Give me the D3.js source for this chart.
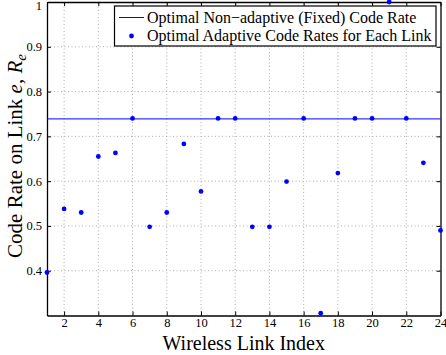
<!DOCTYPE html>
<html>
<head>
<meta charset="utf-8">
<script src="https://cdn.jsdelivr.net/npm/d3@7"></script>
<style>
body { margin: 0; background: #fff; }
text { font-family: "Liberation Serif", "Times New Roman", Times, serif; }
</style>
</head>
<body>
<div id="chart"></div>
<script>
// link indices and the rates
const links = d3.range(1, 25);
const adaptiveRates = [0.396, 0.538, 0.530, 0.655, 0.663, 0.740, 0.498, 0.530, 0.683, 0.577, 0.740, 0.740,
                       0.498, 0.498, 0.599, 0.740, 0.305, 0.618, 0.740, 0.740, 1.0, 0.740, 0.641, 0.490];
const fixedRate = 0.739;
const xTicks = [2, 4, 6, 8, 10, 12, 14, 16, 18, 20, 22, 24];
const yTicks = [0.4, 0.5, 0.6, 0.7, 0.8, 0.9, 1];
const legendLabels = ["Optimal Non\u2212adaptive (Fixed) Code Rate", "Optimal Adaptive Code Rates for Each Link"];

const width = 446, height = 355;
const margin = {left: 47, right: 5.5, top: 2, bottom: 39.5};
const serif = "'Liberation Serif', 'Times New Roman', Times, serif";

const svg = d3.select("#chart").append("svg")
    .attr("width", width)
    .attr("height", height)
    .style("display", "block");

const x = d3.scaleLinear().domain([1, 24]).range([margin.left, width - margin.right]);
const y = d3.scaleLinear().domain([0.3, 1]).range([height - margin.bottom, margin.top]);

const blue = "#0000ff";

// grid
svg.append("g").selectAll("line")
    .data(xTicks.filter(d => d < 24))
    .enter().append("line")
    .attr("x1", d => x(d)).attr("x2", d => x(d))
    .attr("y1", y(0.3)).attr("y2", y(1))
    .attr("stroke", "#999").attr("stroke-width", 0.8)
    .attr("stroke-dasharray", "1,2.5");
svg.append("g").selectAll("line")
    .data(yTicks.filter(d => d < 1))
    .enter().append("line")
    .attr("x1", x(1)).attr("x2", x(24))
    .attr("y1", d => y(d)).attr("y2", d => y(d))
    .attr("stroke", "#999").attr("stroke-width", 0.8)
    .attr("stroke-dasharray", "1,2.5");

// axes, ticks pointing inward
const xAxis = svg.append("g")
    .attr("transform", `translate(0,${y(0.3)})`)
    .call(d3.axisBottom(x).tickValues(xTicks).tickSizeInner(-4).tickSizeOuter(0).tickPadding(3));
const xTop = svg.append("g")
    .attr("transform", `translate(0,${y(1)})`)
    .call(d3.axisTop(x).tickValues(xTicks).tickSizeInner(-4).tickSizeOuter(0).tickFormat(""));
const yAxis = svg.append("g")
    .attr("transform", `translate(${x(1)},0)`)
    .call(d3.axisLeft(y).tickValues(yTicks).tickSizeInner(-4).tickSizeOuter(0).tickPadding(5)
        .tickFormat(d => d === 1 ? "1" : d3.format(".1f")(d)));
const yRight = svg.append("g")
    .attr("transform", `translate(${x(24)},0)`)
    .call(d3.axisRight(y).tickValues(yTicks).tickSizeInner(-4).tickSizeOuter(0).tickFormat(""));

[xAxis, xTop, yAxis, yRight].forEach(g => {
    g.attr("font-family", serif);
    g.select(".domain").attr("stroke", "#000").attr("stroke-width", 1.3);
    g.selectAll(".tick line").attr("stroke", "#000").attr("stroke-width", 1);
    g.selectAll("text").attr("font-family", serif).attr("font-size", 12.5).attr("fill", "#000");
});
yAxis.selectAll(".tick text").filter(d => d === 1).attr("dy", "0.6em");

// fixed rate line
svg.append("line")
    .attr("x1", x(1)).attr("x2", x(24))
    .attr("y1", y(fixedRate)).attr("y2", y(fixedRate))
    .attr("stroke", blue).attr("stroke-width", 1);

// adaptive points
svg.append("g").selectAll("circle")
    .data(links.map((l, i) => ({link: l, rate: adaptiveRates[i]})))
    .enter().append("circle")
    .attr("cx", d => x(d.link))
    .attr("cy", d => y(d.rate))
    .attr("r", 2.4)
    .attr("fill", blue);

// legend
const legend = svg.append("g");
legend.append("rect")
    .attr("x", 114.5).attr("y", 6).attr("width", 321.5).attr("height", 40)
    .attr("fill", "#fff").attr("stroke", "#000").attr("stroke-width", 1.2);
legend.append("line")
    .attr("x1", 119).attr("x2", 144).attr("y1", 17.5).attr("y2", 17.5)
    .attr("stroke", blue).attr("stroke-width", 1);
legend.append("circle")
    .attr("cx", 131.5).attr("cy", 36).attr("r", 2.4).attr("fill", blue);
legend.selectAll("text")
    .data(legendLabels)
    .enter().append("text")
    .attr("x", 147)
    .attr("y", (d, i) => 23 + i * 18.3)
    .attr("font-family", serif)
    .attr("font-size", 16)
    .text(d => d);

// axis labels
svg.append("text")
    .attr("x", (x(1) + x(24)) / 2)
    .attr("y", 350)
    .attr("text-anchor", "middle")
    .attr("font-family", serif)
    .attr("font-size", 20)
    .text("Wireless Link Index");

const yl = svg.append("text")
    .attr("transform", "translate(22,156) rotate(-90)")
    .attr("text-anchor", "middle")
    .attr("font-family", serif)
    .attr("font-size", 21);
yl.append("tspan").text("Code Rate on Link ");
yl.append("tspan").attr("font-style", "italic").text("e");
yl.append("tspan").text(", ");
yl.append("tspan").attr("font-style", "italic").text("R");
yl.append("tspan").attr("font-style", "italic").attr("font-size", 15).attr("dy", 4).text("e");
</script>
</body>
</html>
